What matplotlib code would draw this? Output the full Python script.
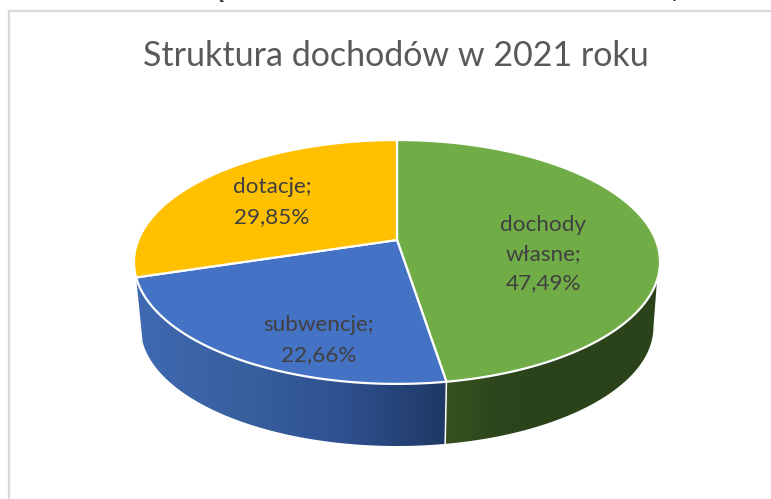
# Struktura dochodow - 3D pie drawn with a perspective mapped unit circle

import numpy as np
import matplotlib
matplotlib.use("Agg")
import matplotlib.pyplot as plt
from matplotlib.colors import LinearSegmentedColormap
from matplotlib.patches import Polygon

title = "Struktura dochodów w 2021 roku"
categories = ["dochody\nwłasne", "subwencje", "dotacje"]
shares = [47.49, 22.66, 29.85]
colors = ["#70AD47", "#4472C4", "#FFC000"]

# hand placed data labels, pixels
label_xy = [(543, 254), (319, 340), (272, 202)]

# pie geometry, pixels
APEX = (397, 240)
A, B, K = 258.7, 118.0, 0.18
DEPTH, SHRINK = 65.7, 0.975
# clockwise angle where the side wall starts to show, right and left
SIDE_RIGHT, SIDE_LEFT = 108.7, 252.5
SIDE_RIGHT_BOTTOM = 100.4

plt.rcParams["font.family"] = ["Lato", "DejaVu Sans"]


def rim(deg, bottom=False):
    # deg runs clockwise from twelve o'clock
    t = np.radians(deg)
    x, y = np.sin(t), np.cos(t)
    w = 1 + K * y
    s = SHRINK if bottom else 1.0
    px = APEX[0] + s * A * x / w
    py = APEX[1] - s * B * y / w + (DEPTH if bottom else 0)
    return np.column_stack([px, py])


def side_wall(ax, start, end, stops, bottom_start=None):
    top = rim(np.linspace(start, end, 120))
    low = rim(np.linspace(end, bottom_start or start, 120), bottom=True)
    pts = np.vstack([top, low])
    cmap = LinearSegmentedColormap.from_list("side", stops)
    x0, x1 = pts[:, 0].min(), pts[:, 0].max()
    y0, y1 = pts[:, 1].min(), pts[:, 1].max()
    im = ax.imshow(np.linspace(0, 1, 256)[None, :], cmap=cmap, aspect="auto",
                   extent=(x0, x1, y1, y0), zorder=1)
    patch = Polygon(pts, closed=True, fc="none", ec="none", transform=ax.transData)
    ax.add_patch(patch)
    im.set_clip_path(patch)


fig = plt.figure(figsize=(7.71, 4.99), dpi=100)
ax = fig.add_axes([0, 0, 1, 1])

# cumulative slice angles
edges = np.concatenate([[0], np.cumsum(shares)]) * 360 / sum(shares)

side_wall(ax, SIDE_RIGHT, edges[1], ["#37521F", "#2D451C", "#2B431B", "#2B431B", "#2B431B"],
          bottom_start=SIDE_RIGHT_BOTTOM)
side_wall(ax, edges[1], edges[2], ["#3F69B2", "#38609F", "#2F5190", "#1F3864"])

# white seam between the two visible walls
seam = np.vstack([rim(edges[1]), rim(edges[1], bottom=True)])
ax.plot(seam[:, 0], seam[:, 1], color="white", lw=1.1, zorder=2)

# top face
for i, share in enumerate(shares):
    arc = rim(np.linspace(edges[i], edges[i + 1], 200))
    pts = np.vstack([[APEX], arc])
    ax.add_patch(Polygon(pts, closed=True, fc=colors[i], ec="white", lw=1.6,
                         joinstyle="round", zorder=3))
    name = categories[i]
    text = f"{name};\n{share:.2f}%".replace(".", ",")
    ax.text(*label_xy[i], text, ha="center", va="center", fontsize=16.2,
            color="#404040", linespacing=1.58, zorder=4)

ax.text(396, 56, title, ha="center", va="center", fontsize=24.5, color="#595959")

# chart frame, only top and left survive the crop
ax.plot([8.5, 8.5], [499, 10.5], color="#D9D9D9", lw=1.6, solid_joinstyle="miter")
ax.plot([8.5, 771], [10.5, 10.5], color="#D9D9D9", lw=1.6)

# bits of the sentence cut off above the chart
ax.text(220, -1, "ę", ha="center", va="baseline", fontsize=14, color="black",
        clip_on=True)
ax.text(676, -2, "y", ha="center", va="baseline", fontsize=14, color="black",
        clip_on=True)

ax.set_xlim(0, 771)
ax.set_ylim(499, 0)
ax.axis("off")

fig.savefig("out.png", dpi=100)
